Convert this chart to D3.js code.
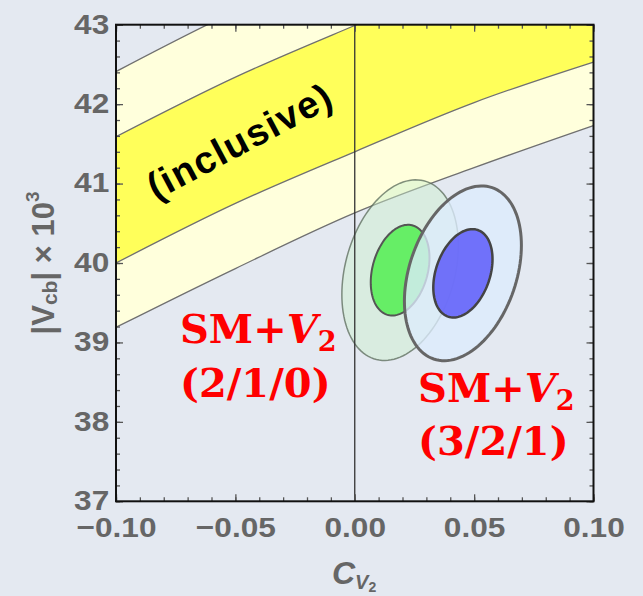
<!DOCTYPE html>
<html>
<head>
<meta charset="utf-8">
<script src="https://cdn.jsdelivr.net/npm/d3@7"></script>
<style>
  html, body { margin: 0; padding: 0; background: #e4e9f1; }
  svg { display: block; }
</style>
</head>
<body>
<svg id="chart" width="643" height="596"></svg>
<script>
const bandX = [-0.10, -0.05, 0.00, 0.05, 0.10];
const outerUpper = [42.41, 43.17, 43.81, 44.43, 44.93];
const innerUpper = [41.59, 42.34, 42.99, 43.61, 44.11];
const innerLower = [40.00, 40.75, 41.40, 42.02, 42.53];
const outerLower = [39.19, 39.93, 40.63, 41.20, 41.73];

// fit contours: (2/1/0) and (3/2/1)
const fitNames = ['(2/1/0)', '(3/2/1)'];
const fitCenterX = [0.0190, 0.0453];
const fitCenterY = [39.91, 39.87];
const innerHalfX = [0.0123, 0.0124];
const innerHalfY = [0.571, 0.556];
const outerHalfX = [0.0244, 0.0245];
const outerHalfY = [1.137, 1.100];
const fitCorr = [0.27, 0.32];

const xMajor = [-0.10, -0.05, 0.00, 0.05, 0.10];
const yMajor = [37, 38, 39, 40, 41, 42, 43];

const svg = d3.select('#chart');
const W = 643, H = 596;
const pLeft = 116, pRight = 593.5, pTop = 24.7, pBottom = 501.3;

const x = d3.scaleLinear().domain([-0.1, 0.1]).range([pLeft, pRight]);
const y = d3.scaleLinear().domain([37, 43]).range([pBottom, pTop]);

svg.append('rect').attr('width', W).attr('height', H).attr('fill', '#e4e9f1');

svg.append('clipPath').attr('id', 'plotClip')
  .append('rect')
  .attr('x', pLeft).attr('y', pTop)
  .attr('width', pRight - pLeft).attr('height', pBottom - pTop);

const plot = svg.append('g').attr('clip-path', 'url(#plotClip)');

// bands
const band = (lo, hi) => d3.area()
  .x((d, i) => x(bandX[i]))
  .y0((d, i) => y(lo[i]))
  .y1((d, i) => y(hi[i]))
  .curve(d3.curveMonotoneX)(bandX);

plot.append('path').attr('d', band(outerLower, outerUpper)).attr('fill', '#ffffdc');
plot.append('path').attr('d', band(innerLower, innerUpper)).attr('fill', '#ffff5a');

const edge = d3.line()
  .x((d, i) => x(bandX[i]))
  .y(d => y(d))
  .curve(d3.curveMonotoneX);

[outerUpper, innerUpper, innerLower, outerLower].forEach(arr => {
  plot.append('path')
    .attr('d', edge(arr))
    .attr('fill', 'none')
    .attr('stroke', '#707070')
    .attr('stroke-width', 1.3);
});

// band label
svg.append('text')
  .attr('transform', `translate(${x(-0.0475)},${y(41.50)}) rotate(-28)`)
  .attr('text-anchor', 'middle')
  .attr('dy', '0.26em')
  .style('font-family', '"Liberation Sans", Arial, sans-serif')
  .style('font-weight', 'bold')
  .style('font-size', '38px')
  .style('letter-spacing', '1.5px')
  .attr('fill', '#000')
  .text('(inclusive)');

// fit ellipses
function ellipse(i, hx, hy) {
  const phi = Math.acos(fitCorr[i]);
  const pts = d3.range(0, 360, 3).map(a => {
    const t = a * Math.PI / 180;
    return [fitCenterX[i] + hx * Math.cos(t), fitCenterY[i] + hy * Math.cos(t - phi)];
  });
  return d3.line().x(d => x(d[0])).y(d => y(d[1])).curve(d3.curveLinearClosed)(pts);
}

const fitStyle = [
  { outerFill: 'rgba(205,240,205,0.45)', outerStroke: 'rgba(90,105,90,0.75)', outerW: 1.5,
    innerFill: '#66ee66', innerStroke: '#555', innerW: 2 },
  { outerFill: 'rgba(220,236,252,0.78)', outerStroke: '#666', outerW: 3,
    innerFill: 'rgba(100,100,250,0.9)', innerStroke: '#444', innerW: 2.5 }
];

fitNames.forEach((name, i) => {
  const s = fitStyle[i];
  svg.append('path')
    .attr('d', ellipse(i, outerHalfX[i], outerHalfY[i]))
    .attr('fill', s.outerFill)
    .attr('stroke', s.outerStroke)
    .attr('stroke-width', s.outerW);
  svg.append('path')
    .attr('d', ellipse(i, innerHalfX[i], innerHalfY[i]))
    .attr('fill', s.innerFill)
    .attr('stroke', s.innerStroke)
    .attr('stroke-width', s.innerW);
});

// C_V2 = 0 line
svg.append('line')
  .attr('x1', x(0)).attr('x2', x(0))
  .attr('y1', pTop).attr('y2', pBottom)
  .attr('stroke', '#333')
  .attr('stroke-width', 1.3);

// red fit labels
const labelPos = [
  { x: -0.0732, y1: 38.99, y2: 38.31 },
  { x: 0.0265, y1: 38.25, y2: 37.58 }
];
const serif = '"DejaVu Serif", "Liberation Serif", serif';

fitNames.forEach((name, i) => {
  const p = labelPos[i];
  const t1 = svg.append('text')
    .attr('x', x(p.x)).attr('y', y(p.y1))
    .style('font-family', serif)
    .style('font-weight', 'bold')
    .style('font-size', '40px')
    .attr('fill', '#ff0000');
  t1.append('tspan').text('SM+');
  t1.append('tspan').style('font-style', 'italic').text('V');
  t1.append('tspan').attr('dy', 8).style('font-size', '27px').text('2');

  svg.append('text')
    .attr('x', x(p.x)).attr('y', y(p.y2))
    .style('font-family', serif)
    .style('font-weight', 'bold')
    .style('font-size', '40px')
    .attr('fill', '#ff0000')
    .text(name);
});

// frame and ticks
const tickColor = '#555';
function styleAxis(g) {
  g.select('.domain').remove();
  g.selectAll('.tick line').attr('stroke', tickColor).attr('stroke-width', 1.3);
}

const minorX = x.ticks(20);
const minorY = y.ticks(30);

const sans = '"Liberation Sans", Arial, sans-serif';

const xAxis = svg.append('g').attr('transform', `translate(0,${pBottom})`)
  .call(d3.axisBottom(x).tickValues(xMajor).tickSizeInner(-7).tickSizeOuter(0)
    .tickPadding(16).tickFormat(d3.format('.2f')))
  .call(styleAxis);
svg.append('g').attr('transform', `translate(0,${pBottom})`)
  .call(d3.axisBottom(x).tickValues(minorX).tickSizeInner(-4).tickSizeOuter(0).tickFormat(''))
  .call(styleAxis);
svg.append('g').attr('transform', `translate(0,${pTop})`)
  .call(d3.axisTop(x).tickValues(xMajor).tickSizeInner(-7).tickSizeOuter(0).tickFormat(''))
  .call(styleAxis);
svg.append('g').attr('transform', `translate(0,${pTop})`)
  .call(d3.axisTop(x).tickValues(minorX).tickSizeInner(-4).tickSizeOuter(0).tickFormat(''))
  .call(styleAxis);

const yAxis = svg.append('g').attr('transform', `translate(${pLeft},0)`)
  .call(d3.axisLeft(y).tickValues(yMajor).tickSizeInner(-7).tickSizeOuter(0)
    .tickPadding(6).tickFormat(d3.format('d')))
  .call(styleAxis);
svg.append('g').attr('transform', `translate(${pLeft},0)`)
  .call(d3.axisLeft(y).tickValues(minorY).tickSizeInner(-4).tickSizeOuter(0).tickFormat(''))
  .call(styleAxis);
svg.append('g').attr('transform', `translate(${pRight},0)`)
  .call(d3.axisRight(y).tickValues(yMajor).tickSizeInner(-7).tickSizeOuter(0).tickFormat(''))
  .call(styleAxis);
svg.append('g').attr('transform', `translate(${pRight},0)`)
  .call(d3.axisRight(y).tickValues(minorY).tickSizeInner(-4).tickSizeOuter(0).tickFormat(''))
  .call(styleAxis);

[xAxis, yAxis].forEach(g => {
  g.selectAll('.tick text')
    .attr('fill', '#666')
    .style('font-family', sans)
    .style('font-weight', 'bold')
    .style('font-size', '28px');
});
xAxis.selectAll('.tick text').attr('transform', 'scale(1.13,1)');
yAxis.selectAll('.tick text').attr('transform', 'scale(1.13,1)').attr('dy', '0.30em');

svg.append('rect')
  .attr('x', pLeft).attr('y', pTop)
  .attr('width', pRight - pLeft).attr('height', pBottom - pTop)
  .attr('fill', 'none')
  .attr('stroke', '#111')
  .attr('stroke-width', 2);

// axis titles
const yTitle = svg.append('text')
  .attr('transform', `translate(54,${(pTop + pBottom) / 2}) rotate(-90)`)
  .attr('text-anchor', 'middle')
  .style('font-family', sans)
  .style('font-weight', 'bold')
  .style('font-size', '31px')
  .attr('fill', '#666');
yTitle.append('tspan').text('|V');
yTitle.append('tspan').attr('dy', 3).style('font-size', '21px').text('cb');
yTitle.append('tspan').attr('dy', -3).text('| × 10');
yTitle.append('tspan').attr('dy', -15).style('font-size', '19px').text('3');

const xTitle = svg.append('text')
  .attr('x', 332).attr('y', 584)
  .style('font-family', sans)
  .style('font-weight', 'bold')
  .style('font-style', 'italic')
  .style('font-size', '32px')
  .attr('fill', '#666');
xTitle.append('tspan').text('C');
xTitle.append('tspan').attr('dy', 5).style('font-size', '20px').text('V');
xTitle.append('tspan').attr('dy', 3).style('font-size', '14px').style('font-style', 'normal').text('2');
</script>
</body>
</html>
